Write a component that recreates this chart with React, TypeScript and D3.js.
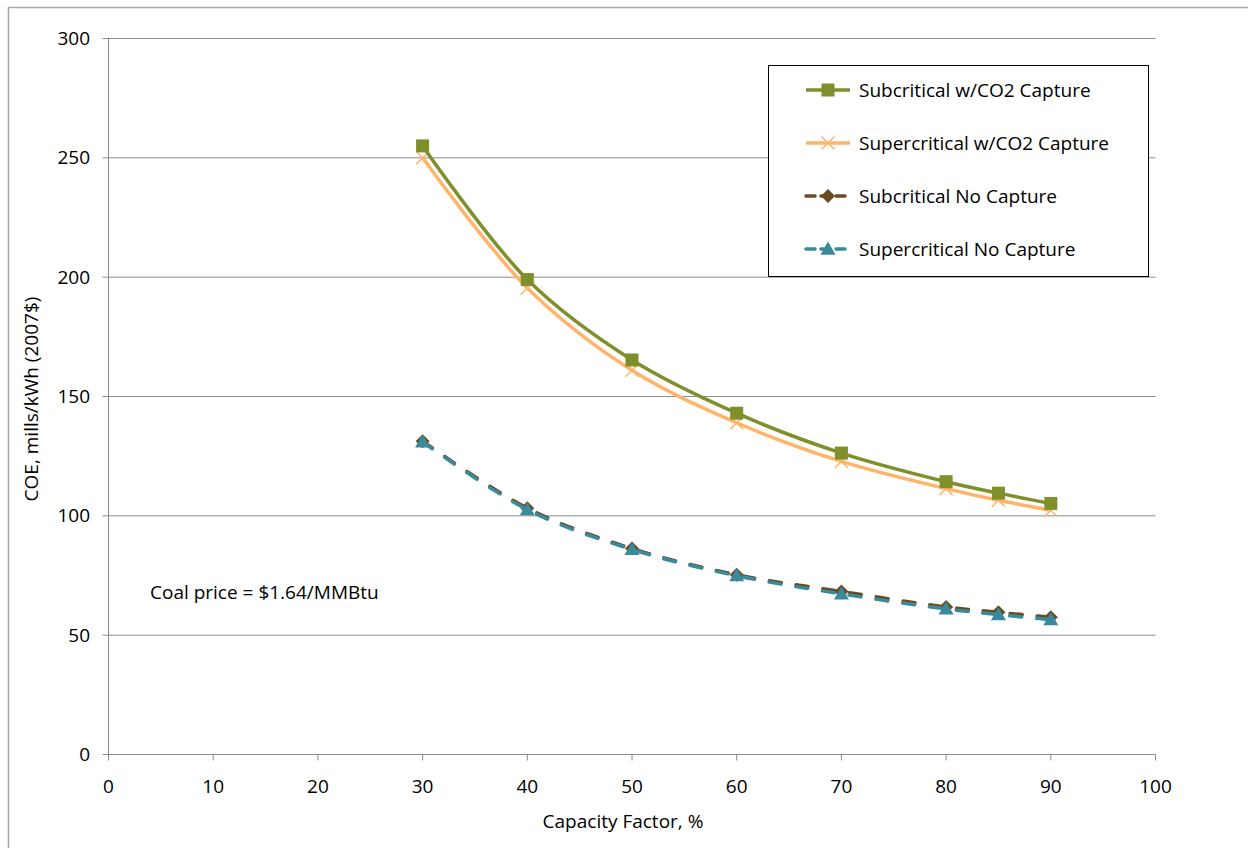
import React from "react";
import * as d3 from "d3";

const capacityFactor = [30, 40, 50, 60, 70, 80, 85, 90];
const subcriticalCapture = [255, 199, 165.3, 143, 126.3, 114.3, 109.5, 105.2];
const supercriticalCapture = [250, 195.5, 161, 139, 122.8, 111.4, 106.5, 102.3];
const subcriticalNoCapture = [131.3, 103.2, 86.3, 75.3, 68.3, 61.8, 59.6, 57.5];
const supercriticalNoCapture = [131, 102.6, 85.9, 74.9, 67.3, 61, 58.6, 56.5];
const xTicks = [0, 10, 20, 30, 40, 50, 60, 70, 80, 90, 100];
const yTicks = [0, 50, 100, 150, 200, 250, 300];
const seriesNames = [
  "Subcritical w/CO2 Capture",
  "Supercritical w/CO2 Capture",
  "Subcritical No Capture",
  "Supercritical No Capture",
];

const W = 1248;
const H = 848;
const FONT = "'Open Sans', Lato, sans-serif";
const FS = 19;

type Marker = "square" | "x" | "diamond" | "triangle";
interface Series {
  name: string;
  values: number[];
  color: string;
  dash: string | null;
  marker: Marker;
}

const series: Series[] = [
  { name: seriesNames[2], values: subcriticalNoCapture, color: "#6B4C22", dash: "12 15", marker: "diamond" },
  { name: seriesNames[3], values: supercriticalNoCapture, color: "#3A8A9D", dash: "12 15", marker: "triangle" },
  { name: seriesNames[1], values: supercriticalCapture, color: "#FFB46A", dash: null, marker: "x" },
  { name: seriesNames[0], values: subcriticalCapture, color: "#7F8F2C", dash: null, marker: "square" },
];
const legendOrder = [3, 2, 0, 1];

function MarkerShape({ type, x, y, color }: { type: Marker; x: number; y: number; color: string }) {
  if (type === "square") {
    return <rect x={x - 6.5} y={y - 6.5} width={13} height={13} fill={color} />;
  }
  if (type === "x") {
    const s = 6.5;
    return (
      <path
        d={`M${x - s},${y - s}L${x + s},${y + s}M${x - s},${y + s}L${x + s},${y - s}`}
        stroke={color}
        strokeWidth={1.5}
        fill="none"
      />
    );
  }
  if (type === "diamond") {
    const s = 7;
    return <path d={`M${x},${y - s}L${x + s},${y}L${x},${y + s}L${x - s},${y}Z`} fill={color} />;
  }
  const s = 7.5;
  return <path d={`M${x},${y - s}L${x + s},${y + s * 0.75}L${x - s},${y + s * 0.75}Z`} fill={color} />;
}

export default function App() {
  const x = d3.scaleLinear().domain([0, 100]).range([108.5, 1155.5]);
  const y = d3.scaleLinear().domain([0, 300]).range([754.5, 38.5]);
  const line = d3
    .line<[number, number]>()
    .x((d) => x(d[0]))
    .y((d) => y(d[1]))
    .curve(d3.curveCatmullRom.alpha(0.5));

  const legendX = 768.5;
  const legendY = 65.5;
  const legendRowY = (i: number) => 90 + i * 53;

  return (
    <svg
      width={W}
      height={H}
      style={{ position: "absolute", left: 0, top: 0, background: "#fff" }}
      fontFamily={FONT}
    >
      <rect x={0} y={0} width={W} height={H} fill="#fff" />
      {/* outer chart border */}
      <path d={`M8.5,${H}V7.5H${W}`} stroke="#a6a6a6" strokeWidth={1.5} fill="none" />

      {/* gridlines */}
      {yTicks.map((t) => (
        <line key={"g" + t} x1={x(0)} x2={x(100)} y1={y(t)} y2={y(t)} stroke="#8c8c8c" strokeWidth={1} />
      ))}
      {/* y axis */}
      <line x1={x(0)} x2={x(0)} y1={y(0)} y2={y(300)} stroke="#8c8c8c" strokeWidth={1} />
      {yTicks.map((t) => (
        <g key={"yt" + t}>
          <line x1={x(0) - 6} x2={x(0)} y1={y(t)} y2={y(t)} stroke="#8c8c8c" />
          <text x={90} y={y(t)} dy="0.35em" textAnchor="end" fontSize={FS} fill="#000">
            {t}
          </text>
        </g>
      ))}
      {/* x axis */}
      {xTicks.map((t) => (
        <g key={"xt" + t}>
          <line x1={x(t)} x2={x(t)} y1={y(0)} y2={y(0) + 6} stroke="#8c8c8c" />
          <text x={x(t)} y={786} dy="0.35em" textAnchor="middle" fontSize={FS} fill="#000">
            {t}
          </text>
        </g>
      ))}

      <text x={623} y={821} dy="0.35em" textAnchor="middle" fontSize={FS} fill="#000">
        Capacity Factor, %
      </text>
      <text
        transform={`translate(31,399) rotate(-90)`}
        dy="0.35em"
        textAnchor="middle"
        fontSize={FS}
        fill="#000"
      >
        COE, mills/kWh (2007$)
      </text>
      <text x={150} y={592} dy="0.35em" fontSize={FS} fill="#000">
        Coal price = $1.64/MMBtu
      </text>

      {/* series */}
      {series.map((s) => {
        const pts = capacityFactor.map((c, i) => [c, s.values[i]] as [number, number]);
        return (
          <g key={s.name}>
            <path
              d={line(pts) || ""}
              fill="none"
              stroke={s.color}
              strokeWidth={3.5}
              strokeDasharray={s.dash || undefined}
              strokeLinecap={s.dash ? "round" : "butt"}
            />
            {pts.map((p, i) => (
              <MarkerShape key={i} type={s.marker} x={x(p[0])} y={y(p[1])} color={s.color} />
            ))}
          </g>
        );
      })}

      {/* legend */}
      <rect x={legendX} y={legendY} width={380} height={211} fill="#fff" stroke="#000" strokeWidth={1} />
      {legendOrder.map((si, i) => {
        const s = series[si];
        const ly = legendRowY(i);
        return (
          <g key={"lg" + si}>
            <line
              x1={806}
              x2={850}
              y1={ly}
              y2={ly}
              stroke={s.color}
              strokeWidth={3.5}
              strokeDasharray={s.dash ? "9 6" : undefined}
              strokeLinecap={s.dash ? "round" : "butt"}
            />
            <MarkerShape type={s.marker} x={828} y={ly} color={s.color} />
            <text x={859} y={ly} dy="0.35em" fontSize={FS} fill="#000">
              {s.name}
            </text>
          </g>
        );
      })}
    </svg>
  );
}
